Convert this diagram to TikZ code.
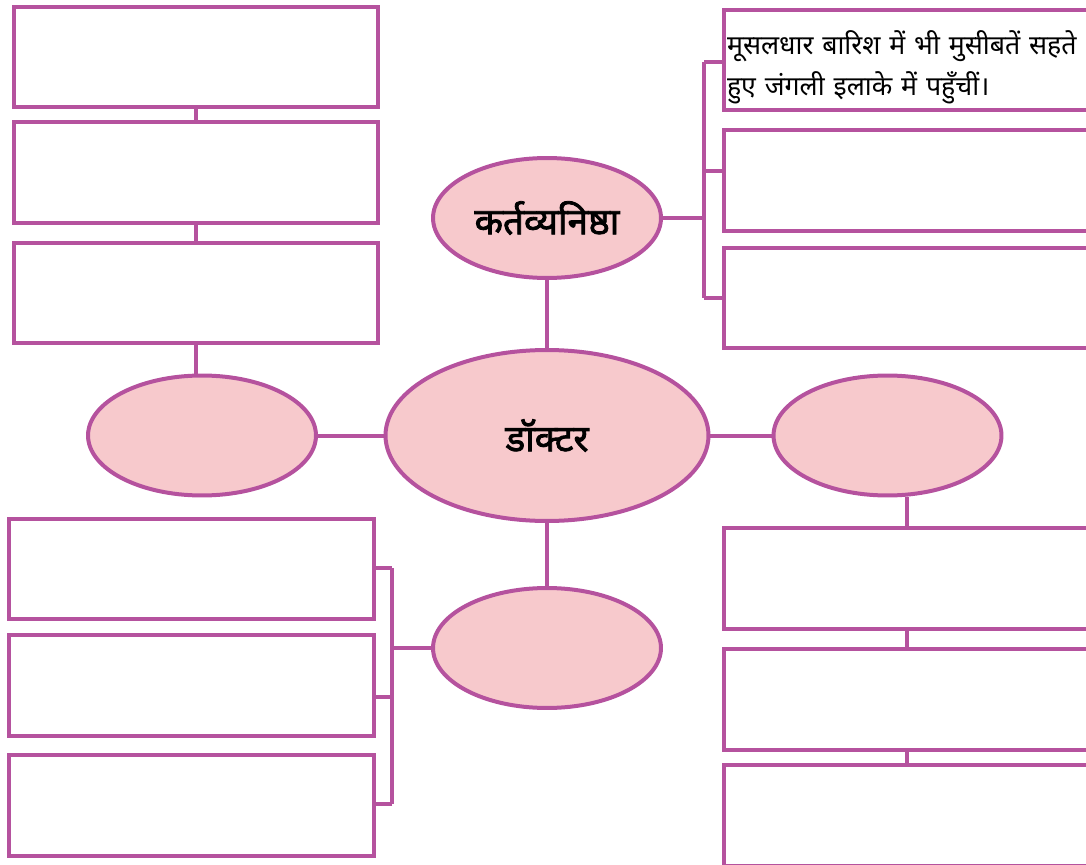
\documentclass[tikz,border=0pt]{standalone}
\usepackage{fontspec}
\newfontfamily\hindi[Script=Devanagari]{Noto Sans}
\newfontfamily\hindibold[Script=Devanagari, FakeBold=2.2]{Noto Sans}
\usepackage{tikz}
\usetikzlibrary{shapes.geometric}

\definecolor{mapline}{RGB}{181,82,158}
\definecolor{mapfill}{RGB}{247,201,204}

\tikzset{
  oval/.style={ellipse, draw=mapline, fill=mapfill, line width=0.08cm,
    minimum width=4.56cm, minimum height=2.4cm, inner sep=0pt,
    font=\hindibold\fontsize{21}{25}\selectfont},
  blank/.style={rectangle, draw=mapline, fill=white, line width=0.08cm,
    minimum width=7.32cm, minimum height=2.02cm, inner sep=0pt},
  link/.style={draw=mapline, line width=0.08cm}
}

\begin{document}
\begin{tikzpicture}[x=0.02cm, y=-0.02cm]
  \useasboundingbox (0,0) rectangle (1086,865);
  \clip (0,0) rectangle (1086,865);

  % Ovals
  \node[oval, minimum width=6.46cm, minimum height=3.42cm] (doc) at (547,435.5) {डॉक्टर};
  \node[oval] (kart) at (547,218) {कर्तव्यनिष्ठा};
  \node[oval] (lell) at (202,435.5) {};
  \node[oval] (rell) at (887.5,435.5) {};
  \node[oval] (bell) at (547,648) {};

  % Boxes, left top
  \node[blank, minimum width=7.28cm] (lt1) at (196,57) {};
  \node[blank, minimum width=7.28cm] (lt2) at (196,172.5) {};
  \node[blank, minimum width=7.28cm] (lt3) at (196,293) {};

  % Boxes, left bottom
  \node[blank, minimum width=7.3cm] (lb1) at (191.5,569) {};
  \node[blank, minimum width=7.3cm] (lb2) at (191.5,685.5) {};
  \node[blank, minimum width=7.3cm] (lb3) at (191.5,805.5) {};

  % Boxes, right top
  \node[blank] (rt1) at (907,60) {};
  \node[blank] (rt2) at (907,180.5) {};
  \node[blank] (rt3) at (907,298) {};
  \node[text width=7.2cm, align=left, inner sep=0pt,
    font=\hindi\fontsize{15.2}{23.5}\selectfont] (rt1txt) at ([yshift=-0.14cm]rt1.center)
    {मूसलधार बारिश में भी मुसीबतें सहते\\हुए जंगली इलाके में पहुँचीं।};

  % Boxes, right bottom
  \node[blank] (rb1) at (907,578.5) {};
  \node[blank] (rb2) at (907,699.5) {};
  \node[blank] (rb3) at (907,815.5) {};

  % Links from the centre
  \draw[link] (doc.north) -- (kart.south);
  \draw[link] (doc.south) -- (bell.north);
  \draw[link] (doc.west) -- (lell.east);
  \draw[link] (doc.east) -- (rell.west);

  % Left column
  \draw[link] (lt1.south) -- (lt2.north);
  \draw[link] (lt2.south) -- (lt3.north);
  \draw[link] (lt3.south) -- (lt3.south |- lell.north);

  % Right column
  \draw[link] (rell.south -| rb1.north) -- (rb1.north);
  \draw[link] (rb1.south) -- (rb2.north);
  \draw[link] (rb2.south) -- (rb3.north);

  % Bracket, right top
  \coordinate (rtTop) at (704,62);
  \coordinate (rtMid) at (704,171);
  \coordinate (rtBot) at (704,298);
  \draw[link] (kart.east) -- (kart.east -| rtTop);
  \draw[link] (rtTop) -- (rtBot);
  \draw[link] (rtTop) -- (rtTop -| rt1.west);
  \draw[link] (rtMid) -- (rtMid -| rt2.west);
  \draw[link] (rtBot) -- (rtBot -| rt3.west);

  % Bracket, left bottom
  \coordinate (lbTop) at (392,568);
  \coordinate (lbMid) at (392,697);
  \coordinate (lbBot) at (392,804);
  \draw[link] (bell.west) -- (bell.west -| lbTop);
  \draw[link] (lbTop) -- (lbBot);
  \draw[link] (lbTop) -- (lbTop -| lb1.east);
  \draw[link] (lbMid) -- (lbMid -| lb2.east);
  \draw[link] (lbBot) -- (lbBot -| lb3.east);
\end{tikzpicture}
\end{document}
